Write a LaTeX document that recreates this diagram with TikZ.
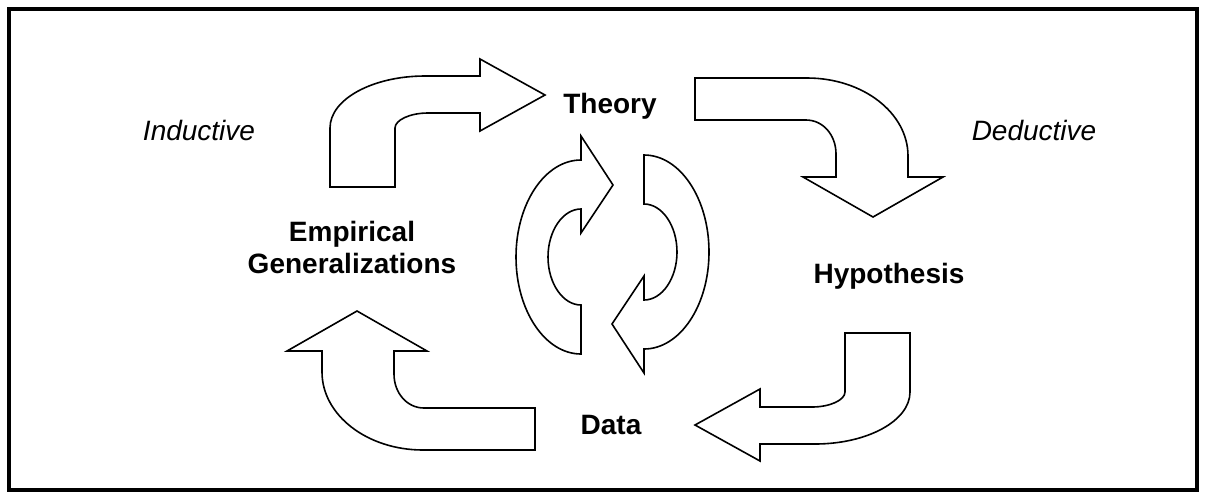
\documentclass[tikz,border=0pt]{standalone}
\usepackage{fontspec}
\setmainfont{Liberation Sans}
\begin{document}
\begin{tikzpicture}[x=1pt, y=-1pt, blockarr/.style={draw, line width=1.6pt, line join=miter},
		stage/.style={font=\fontsize{28}{32}\selectfont\bfseries, inner sep=0pt},
		mode/.style={font=\fontsize{28}{32}\selectfont\itshape, inner sep=0pt}]
				\useasboundingbox (0,0) rectangle (1206,499);
				\draw[line width=4.3pt] (8.8,8.8) rectangle (1197.2,490.2);
				% bent arrows: inductive / deductive, each with its twin turned half round
				\foreach \a in {0,180}{
				\draw[blockarr, rotate around={\a:(620,260)}] (330,187)--(330,128) .. controls (330,99) and (373,76) .. (425,76)--(480,76)--(480,59)--(545,95)--(480,131)--(480,113)--(428,113) .. controls (410,113) and (395,120) .. (395,128)--(395,187)--cycle;
				\draw[blockarr, rotate around={\a:(615,264)}] (695,78)--(807,78) .. controls (863,78) and (908,113) .. (908,156)--(908,177)--(943,177)--(873,217)--(803,177)--(836,177)--(836,154) .. controls (836,135) and (823,120) .. (806,120)--(695,120)--cycle;
				\draw[blockarr, rotate around={\a:(612.5,254.5)}] (581,354) .. controls (545,354) and (516,310.5) .. (516,257) .. controls (516,203.5) and (545,160) .. (581,160)--(581,136)--(613,185)--(581,233)--(581,209) .. controls (563,209) and (548,230.5) .. (548,257) .. controls (548,283.5) and (563,305) .. (581,305)--cycle;
				}
				\node[stage, anchor=base] (theory) at (610,113) {Theory};
				\node[stage, anchor=base] (hypothesis) at (889,283) {Hypothesis};
				\node[stage, anchor=base] (data) at (611,434) {Data};
				\node[stage, align=center] (empirical) at (352,247) {Empirical\\Generalizations};
				\node[mode, anchor=base] (inductive) at (199,140) {Inductive};
				\node[mode, anchor=base] (deductive) at (1034,140) {Deductive};
			\end{tikzpicture}
\end{document}
